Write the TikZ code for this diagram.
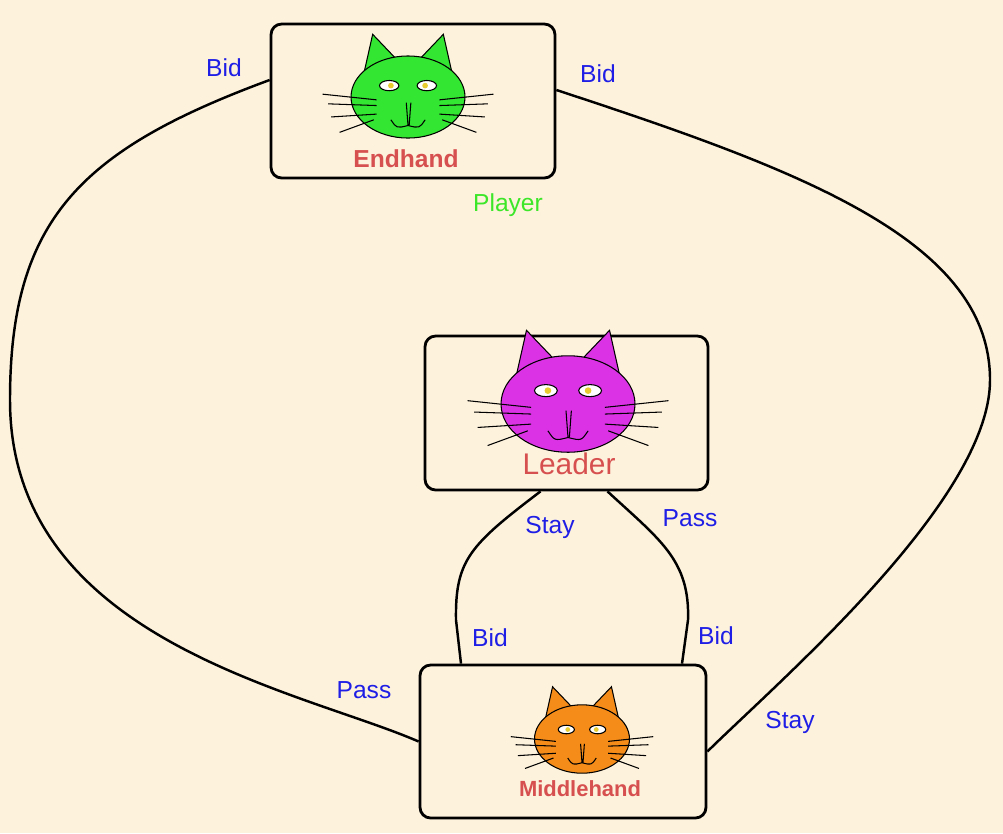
\documentclass[tikz,border=0pt]{standalone}
\usepackage{fontspec}
\setmainfont{Liberation Sans}
\usetikzlibrary{calc}
\definecolor{bg}{RGB}{253,242,220}
\definecolor{lblue}{RGB}{30,30,230}
\definecolor{lred}{RGB}{215,80,80}
\definecolor{lgreen}{RGB}{60,230,40}
\definecolor{catgreen}{RGB}{50,230,50}
\definecolor{catpink}{RGB}{220,50,230}
\definecolor{catorange}{RGB}{245,140,25}
\newcommand\catface[4]{% x, y, scale, colour
  \begin{scope}[shift={(#1,#2)},x=#3cm,y=#3cm,draw=black,line width=0.6pt]
    \filldraw[fill=#4] (-0.8,0.3) -- (-0.62,1.1) -- (-0.2,0.66) -- cycle;
    \filldraw[fill=#4] (0.2,0.66) -- (0.62,1.1) -- (0.8,0.3) -- cycle;
    \filldraw[fill=#4] (0,0) ellipse (1 and 0.72);
    \foreach \s in {-1,1} {
      \filldraw[fill=white] (\s*0.33,0.2) ellipse (0.17 and 0.09);
      \fill[yellow!60!brown] (\s*0.3,0.2) circle (0.05);
      \draw (\s*0.55,-0.05) -- (\s*1.5,0.05);
      \draw (\s*0.55,-0.15) -- (\s*1.4,-0.12);
      \draw (\s*0.55,-0.3) -- (\s*1.35,-0.35);
      \draw (\s*0.6,-0.4) -- (\s*1.2,-0.62);
    }
    \draw (-0.03,-0.1) -- (0,-0.5) (0.05,-0.1) -- (0.02,-0.5);
    \draw (-0.3,-0.4) .. controls (-0.2,-0.55) .. (0,-0.5) .. controls (0.2,-0.55) .. (0.3,-0.4);
  \end{scope}}
\begin{document}
\begin{tikzpicture}[x=0.02cm,y=-0.02cm,
  state/.style={draw=black,line width=1.6pt,rounded corners=6pt,inner sep=0},
  edge/.style={draw=black,line width=1.4pt},
  lbl/.style={text=lblue,font=\fontsize{14}{16}\selectfont},
  role/.style={text=lred,font=\fontsize{14}{16}\selectfont\bfseries}]
  \fill[bg] (0,0) rectangle (1003,833);
  \useasboundingbox (0,0) rectangle (1003,833);
  % states
  \node (endhand) [state,minimum width=5.68cm,minimum height=3.08cm] at (413,101) {};
  \node (leader) [state,minimum width=5.66cm,minimum height=3.08cm] at (566.5,413) {};
  \node (middle) [state,minimum width=5.72cm,minimum height=3.06cm] at (563,741.5) {};
  \catface{408}{97}{1.14}{catgreen}
  \catface{568}{404}{1.34}{catpink}
  \catface{582}{739}{0.95}{catorange}
  \node (endname) [role] at (406,159) {Endhand};
  \node (leadname) [role,font=\fontsize{17}{19}\selectfont] at (569,464) {Leader};
  \node (midname) [role,font=\fontsize{12.5}{14}\selectfont\bfseries] at (580,789) {Middlehand};
  \node (player) [text=lgreen,font=\fontsize{14}{16}\selectfont] at (508,205) {Player};
  % moves
  \draw[edge] ($(endhand.west)+(0,-21)$) .. controls (80,150) and (10,220) .. (10,400)
    .. controls (10,640) and (300,690) .. (middle.west);
  \draw[edge] ($(endhand.east)+(0,-11)$) .. controls (800,170) and (990,240) .. (990,380)
    .. controls (990,500) and (780,680) .. ($(middle.east)+(0,10)$);
  \draw[edge] ($(leader.south)+(-26,0)$) .. controls (470,545) and (455,560) .. (456,620)
    -- ($(middle.north)+(-102,0)$);
  \draw[edge] ($(leader.south)+(41,0)$) .. controls (660,540) and (690,560) .. (688,620)
    -- ($(middle.north)+(119,0)$);
  \node (bid1) [lbl] at (224,68) {Bid};
  \node (bid2) [lbl] at (598,74) {Bid};
  \node (stay1) [lbl] at (550,527) {Stay};
  \node (pass1) [lbl] at (690,518) {Pass};
  \node (bid3) [lbl] at (490,638) {Bid};
  \node (bid4) [lbl] at (716,636) {Bid};
  \node (pass2) [lbl] at (364,690) {Pass};
  \node (stay2) [lbl] at (790,722) {Stay};
\end{tikzpicture}
\end{document}
